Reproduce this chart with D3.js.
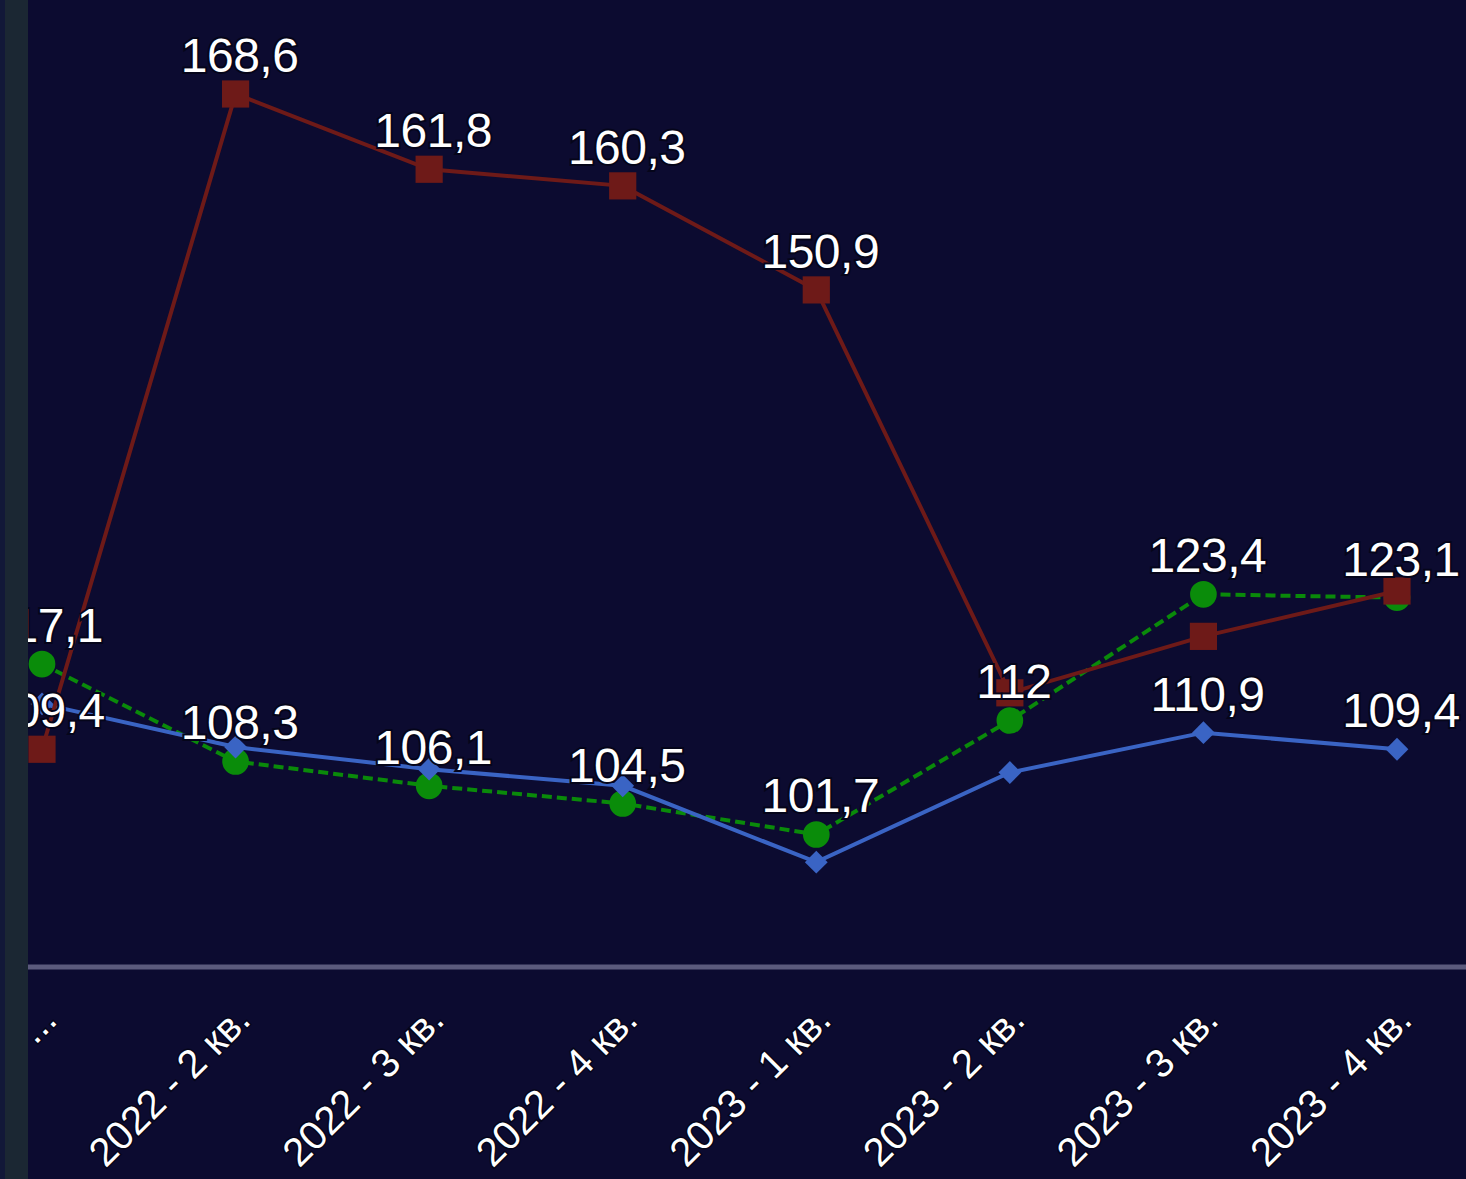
<!DOCTYPE html>
<html>
<head>
<meta charset="utf-8">
<script src="https://cdn.jsdelivr.net/npm/d3@7"></script>
<style>
  html, body { margin: 0; padding: 0; background: #0c0b30; }
  svg { display: block; }
</style>
</head>
<body>
<svg id="chart" width="1466" height="1179"></svg>
<script>
// Data
const categories = ["2022 - 1 кв.", "2022 - 2 кв.", "2022 - 3 кв.", "2022 - 4 кв.",
                    "2023 - 1 кв.", "2023 - 2 кв.", "2023 - 3 кв.", "2023 - 4 кв."];
const tickLabels = ["...", "2022 - 2 кв.", "2022 - 3 кв.", "2022 - 4 кв.",
                    "2023 - 1 кв.", "2023 - 2 кв.", "2023 - 3 кв.", "2023 - 4 кв."];
const redValues   = [109.4, 168.6, 161.8, 160.3, 150.9, 114.5, 119.6, 123.7];
const greenValues = [117.1, 108.3, 106.1, 104.5, 101.7, 112, 123.4, 123.1];
const blueValues  = [113.5, 109.6, 107.6, 106.1, 99.2, 107.3, 110.9, 109.4];
// which data labels the chart shows (others were hidden as overlapping)
const redShown   = [1, 1, 1, 1, 1, 0, 0, 0];
const greenShown = [1, 1, 1, 1, 1, 1, 1, 1];
const blueShown  = [0, 0, 0, 0, 0, 0, 1, 1];

const svgWidth = 1466;
const svgHeight = 1179;

const svg = d3.select("#chart");

const x = d3.scalePoint().domain(categories).range([42, 1397]);
const y = d3.scaleLinear().domain([90, 170]).range([964, 78.5]);

svg.append("rect").attr("width", svgWidth).attr("height", svgHeight).attr("fill", "#0c0b30");

// Axis line
svg.append("line")
    .attr("x1", 28).attr("x2", svgWidth)
    .attr("y1", y(90) + 3).attr("y2", y(90) + 3)
    .attr("stroke", "#5b5a7c").attr("stroke-width", 5);

// Tick labels
svg.append("g").selectAll("text")
    .data(categories)
    .enter().append("text")
    .attr("transform", d => `translate(${x(d) + 7},${1012}) rotate(-45)`)
    .attr("text-anchor", "end")
    .attr("dy", "0.35em")
    .attr("fill", "#ffffff")
    .attr("stroke", "#05051a")
    .attr("stroke-width", 3)
    .attr("paint-order", "stroke")
    .attr("font-family", "Liberation Sans, Arial, sans-serif")
    .attr("font-size", 40)
    .text((d, i) => tickLabels[i]);

const series = [
    { values: greenValues, shown: greenShown, color: "#0a8a0a", dash: "10,5", width: 4, marker: "circle" },
    { values: blueValues, shown: blueShown, color: "#3a64c4", dash: null, width: 4, marker: "diamond" },
    { values: redValues, shown: redShown, color: "#6e1a18", dash: null, width: 4, marker: "square" }
];

const line = d3.line().x((d, i) => x(categories[i])).y(d => y(d));

series.forEach(s => {
    svg.append("path")
        .datum(s.values)
        .attr("d", line)
        .attr("fill", "none")
        .attr("stroke", s.color)
        .attr("stroke-width", s.width)
        .attr("stroke-dasharray", s.dash);

    const symbolType = s.marker === "circle" ? d3.symbolCircle : d3.symbolSquare;
    const size = s.marker === "circle" ? 560 : s.marker === "square" ? 740 : 260;
    const fill = s.marker === "circle" ? "#0a8c0a" : s.color;
    const rot = s.marker === "diamond" ? " rotate(45)" : "";

    svg.append("g").selectAll("path")
        .data(s.values)
        .enter().append("path")
        .attr("d", d3.symbol().type(symbolType).size(size))
        .attr("transform", (d, i) => `translate(${x(categories[i])},${y(d)})${rot}`)
        .attr("fill", fill);
});

// Data labels
const fmt = v => String(v).replace(".", ",");
series.forEach(s => {
    svg.append("g").selectAll("text")
        .data(s.values.map((v, i) => ({ v, i })).filter(d => s.shown[d.i]))
        .enter().append("text")
        .attr("x", d => x(categories[d.i]) + 4)
        .attr("y", d => y(d.v) - 22)
        .attr("text-anchor", "middle")
        .attr("fill", "#ffffff")
        .attr("stroke", "#05051a")
        .attr("stroke-width", 4)
        .attr("paint-order", "stroke")
        .attr("font-family", "Liberation Sans, Arial, sans-serif")
        .attr("font-size", 48)
        .attr("letter-spacing", -0.5)
        .text(d => fmt(d.v));
});

// Left panel edge
svg.append("rect").attr("x", 0).attr("y", 0).attr("width", 28).attr("height", svgHeight).attr("fill", "#1b2733");
svg.append("rect").attr("x", 0).attr("y", 0).attr("width", 5).attr("height", svgHeight).attr("fill", "#121838");
</script>
</body>
</html>
